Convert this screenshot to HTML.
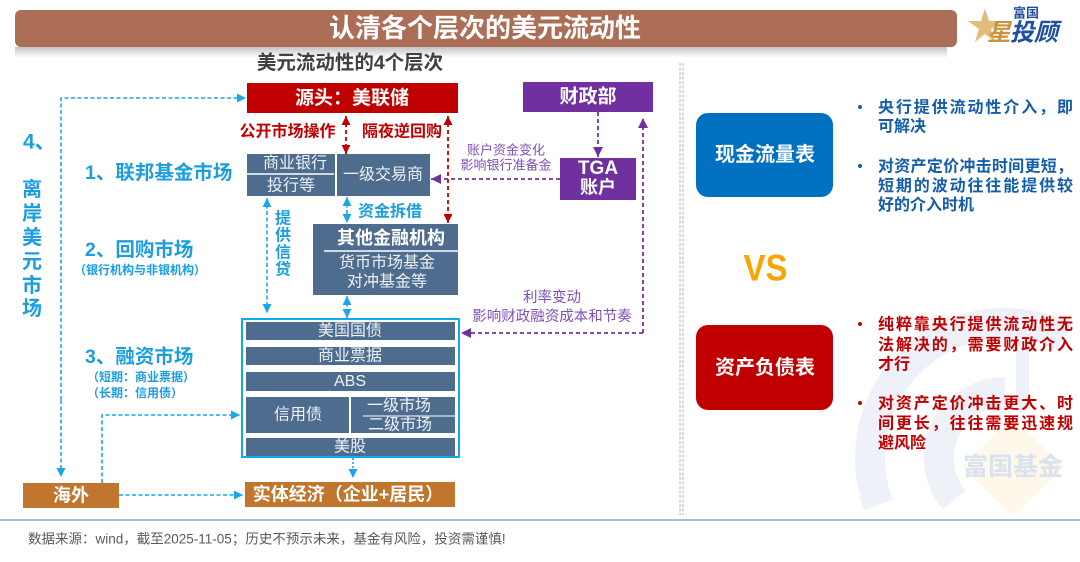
<!DOCTYPE html>
<html><head><meta charset="utf-8"><style>
html,body{margin:0;padding:0;background:#fff;width:1080px;height:562px;overflow:hidden;}
svg{display:block;}
text{font-family:"Liberation Sans","Noto Sans CJK SC",sans-serif;}
</style></head><body>
<svg width="1080" height="562" viewBox="0 0 1080 562" xmlns="http://www.w3.org/2000/svg">
<defs>
  <marker id="ab" viewBox="0 0 10 10" refX="10" refY="5" markerWidth="9" markerHeight="9" markerUnits="userSpaceOnUse" orient="auto-start-reverse"><path d="M0,0 L10,5 L0,10 z" fill="#1aa7e8"/></marker>
  <marker id="ar" viewBox="0 0 10 10" refX="10" refY="5" markerWidth="9" markerHeight="9" markerUnits="userSpaceOnUse" orient="auto-start-reverse"><path d="M0,0 L10,5 L0,10 z" fill="#c00000"/></marker>
  <marker id="ap" viewBox="0 0 10 10" refX="10" refY="5" markerWidth="10" markerHeight="10" markerUnits="userSpaceOnUse" orient="auto-start-reverse"><path d="M0,0 L10,5 L0,10 z" fill="#7030a0"/></marker>
  <linearGradient id="sh" x1="0" y1="0" x2="0" y2="1"><stop offset="0" stop-color="#c4c4c4"/><stop offset="1" stop-color="#ffffff"/></linearGradient>
</defs>

<!-- watermark -->
<g>
  <path d="M878.5,505 A135,135 0 0 1 1065,337" fill="none" stroke="#eef2f8" stroke-width="30"/>
  <path d="M1005,392 A66,66 0 0 0 954,500" fill="none" stroke="#eef2f8" stroke-width="30"/>
  <rect x="1016" y="318" width="13" height="92" fill="#eef2f8"/>
  <polygon points="1013,418 1064,467 1013,516 962,467" fill="#fef8ea"/>
  <text x="1013" y="467" font-size="25" font-weight="700" fill="#d9e2ed" text-anchor="middle" dominant-baseline="central">富国基金</text>
</g>

<!-- title bar -->
<rect x="15" y="47" width="932" height="11" fill="url(#sh)"/>
<rect x="15" y="10" width="942" height="37" rx="6" fill="#ad6e57"/>
<text x="485" y="28" font-size="26" font-weight="700" fill="#ffffff" text-anchor="middle" dominant-baseline="central">认清各个层次的美元流动性</text>

<!-- logo -->
<polygon points="985,8 989,21 1002,21 991,29 995,42 985,34 975,42 979,29 968,21 981,21" fill="#e2bd7a"/>
<text x="1026" y="13" font-size="13" font-weight="700" fill="#1f4fa0" text-anchor="middle" dominant-baseline="central">富国</text>
<text x="999" y="33" font-size="24" font-weight="700" font-style="italic" fill="#c8953e" text-anchor="middle" dominant-baseline="central">星</text>
<text x="1034" y="33" font-size="24" font-weight="700" font-style="italic" fill="#1f4fa0" text-anchor="middle" dominant-baseline="central">投顾</text>

<!-- subtitle -->
<text x="350" y="63" font-size="19.5" font-weight="700" fill="#404040" text-anchor="middle" dominant-baseline="central">美元流动性的4个层次</text>

<!-- top boxes -->
<rect x="247" y="83" width="211" height="30" fill="#c00000"/>
<text x="352" y="98.5" font-size="19" font-weight="700" fill="#ffffff" text-anchor="middle" dominant-baseline="central">源头：美联储</text>
<rect x="523" y="82" width="130" height="30" fill="#7030a0"/>
<text x="588" y="97" font-size="19" font-weight="700" fill="#ffffff" text-anchor="middle" dominant-baseline="central">财政部</text>

<!-- red labels -->
<text x="287.5" y="132" font-size="16" font-weight="700" fill="#c00000" text-anchor="middle" dominant-baseline="central">公开市场操作</text>
<text x="402" y="132" font-size="16" font-weight="700" fill="#c00000" text-anchor="middle" dominant-baseline="central">隔夜逆回购</text>

<!-- red arrows -->
<line x1="346" y1="116" x2="346" y2="154" stroke="#c00000" stroke-width="1.8" stroke-dasharray="4 3" marker-start="url(#ar)" marker-end="url(#ar)"/>
<line x1="448" y1="116" x2="448" y2="223" stroke="#c00000" stroke-width="1.8" stroke-dasharray="4 3" marker-start="url(#ar)" marker-end="url(#ar)"/>

<!-- bank boxes -->
<rect x="247" y="154" width="88" height="42" fill="#4e6d8e"/>
<line x1="247" y1="174" x2="334" y2="174" stroke="#ffffff" stroke-width="1.5"/>
<text x="295" y="163.5" font-size="16" fill="#eef2f7" text-anchor="middle" dominant-baseline="central">商业银行</text>
<text x="291" y="186" font-size="16" fill="#eef2f7" text-anchor="middle" dominant-baseline="central">投行等</text>
<rect x="337" y="154" width="93" height="42" fill="#4e6d8e"/>
<text x="383" y="175" font-size="16" fill="#eef2f7" text-anchor="middle" dominant-baseline="central">一级交易商</text>

<!-- TGA -->
<rect x="560" y="158" width="76" height="42" fill="#7030a0"/>
<text x="598" y="168.5" font-size="19" font-weight="700" fill="#ffffff" text-anchor="middle" dominant-baseline="central">TGA</text>
<text x="598" y="187.5" font-size="18" font-weight="700" fill="#ffffff" text-anchor="middle" dominant-baseline="central">账户</text>

<!-- purple arrows -->
<line x1="598" y1="112" x2="598" y2="157" stroke="#7030a0" stroke-width="1.8" stroke-dasharray="4 3" marker-end="url(#ap)"/>
<line x1="560" y1="179" x2="431" y2="179" stroke="#7030a0" stroke-width="1.8" stroke-dasharray="4 3" marker-end="url(#ap)"/>
<line x1="643" y1="333" x2="643" y2="118" stroke="#7030a0" stroke-width="1.8" stroke-dasharray="4 3" marker-end="url(#ap)"/>
<line x1="643" y1="333" x2="461" y2="333" stroke="#7030a0" stroke-width="1.8" stroke-dasharray="4 3" marker-end="url(#ap)"/>
<text x="506" y="150" font-size="13" fill="#8051b5" text-anchor="middle" dominant-baseline="central">账户资金变化</text>
<text x="506" y="165" font-size="13" fill="#8051b5" text-anchor="middle" dominant-baseline="central">影响银行准备金</text>
<text x="552" y="298" font-size="14.5" fill="#8051b5" text-anchor="middle" dominant-baseline="central">利率变动</text>
<text x="552" y="317" font-size="14.5" fill="#8051b5" text-anchor="middle" dominant-baseline="central">影响财政融资成本和节奏</text>

<!-- other fin institutions -->
<rect x="313" y="224" width="145" height="71" fill="#4e6d8e"/>
<text x="391" y="238" font-size="18" font-weight="700" fill="#ffffff" text-anchor="middle" dominant-baseline="central">其他金融机构</text>
<line x1="324" y1="251" x2="458" y2="251" stroke="#ffffff" stroke-width="1.5"/>
<text x="387" y="263" font-size="16" fill="#eef2f7" text-anchor="middle" dominant-baseline="central">货币市场基金</text>
<text x="387" y="282" font-size="16" fill="#eef2f7" text-anchor="middle" dominant-baseline="central">对冲基金等</text>

<!-- blue arrows -->
<line x1="347" y1="197" x2="347" y2="223" stroke="#1aa7e8" stroke-width="1.6" stroke-dasharray="4 2.5" marker-start="url(#ab)" marker-end="url(#ab)"/>
<text x="390" y="212" font-size="16" font-weight="700" fill="#1a9ee0" text-anchor="middle" dominant-baseline="central">资金拆借</text>
<line x1="267" y1="198" x2="267" y2="313" stroke="#1aa7e8" stroke-width="1.6" stroke-dasharray="4 2.5" marker-start="url(#ab)" marker-end="url(#ab)"/>
<g font-size="16" font-weight="700" fill="#1a9ee0" text-anchor="middle" dominant-baseline="central">
  <text x="283" y="219">提</text><text x="283" y="236">供</text><text x="283" y="253">信</text><text x="283" y="270">贷</text>
</g>
<line x1="347" y1="296" x2="347" y2="318" stroke="#1aa7e8" stroke-width="1.6" stroke-dasharray="4 2.5" marker-start="url(#ab)" marker-end="url(#ab)"/>
<line x1="353" y1="458" x2="353" y2="478" stroke="#1aa7e8" stroke-width="1.6" stroke-dasharray="2 2" marker-end="url(#ab)"/>

<polyline points="61,400 61,98 246,98" fill="none" stroke="#1aa7e8" stroke-width="1.6" stroke-dasharray="4 2.5" marker-end="url(#ab)"/>
<line x1="61" y1="400" x2="61" y2="477" stroke="#1aa7e8" stroke-width="1.6" stroke-dasharray="4 2.5" marker-end="url(#ab)"/>
<line x1="119" y1="495" x2="243" y2="495" stroke="#1aa7e8" stroke-width="1.6" stroke-dasharray="4 2.5" marker-end="url(#ab)"/>
<polyline points="102,483 102,415 240,415" fill="none" stroke="#1aa7e8" stroke-width="1.6" stroke-dasharray="4 2.5" marker-end="url(#ab)"/>

<!-- securities box -->
<rect x="242" y="319" width="217" height="138" fill="#ffffff" stroke="#10aaec" stroke-width="2"/>
<g fill="#4e6d8e">
  <rect x="246" y="322" width="209" height="18"/>
  <rect x="246" y="347" width="209" height="18"/>
  <rect x="246" y="372" width="209" height="19"/>
  <rect x="246" y="397" width="103" height="36"/>
  <rect x="351" y="397" width="104" height="36"/>
  <rect x="246" y="438" width="209" height="18"/>
</g>
<line x1="363" y1="416" x2="455" y2="416" stroke="#ffffff" stroke-width="1"/>
<g font-size="16" fill="#eef2f7" text-anchor="middle" dominant-baseline="central">
  <text x="350" y="331">美国国债</text>
  <text x="350" y="356">商业票据</text>
  <text x="350" y="381.5">ABS</text>
  <text x="298" y="415">信用债</text>
  <text x="399" y="406">一级市场</text>
  <text x="400" y="425">二级市场</text>
  <text x="350" y="447">美股</text>
</g>

<!-- bottom boxes -->
<rect x="245" y="482" width="210" height="25" fill="#c0762c"/>
<text x="348" y="494.5" font-size="18" font-weight="700" fill="#ffffff" text-anchor="middle" dominant-baseline="central">实体经济（企业+居民）</text>
<rect x="23" y="483" width="96" height="25" fill="#c0762c"/>
<text x="71" y="495.5" font-size="18" font-weight="700" fill="#ffffff" text-anchor="middle" dominant-baseline="central">海外</text>

<!-- left labels -->
<g font-weight="700" fill="#1a9ee0" dominant-baseline="central">
  <text x="23" y="142" font-size="21">4、</text>
  <g font-size="20" text-anchor="middle">
    <text x="32" y="190">离</text><text x="32" y="214">岸</text><text x="32" y="238">美</text>
    <text x="32" y="262">元</text><text x="32" y="286">市</text><text x="32" y="309">场</text>
  </g>
  <text x="85" y="173" font-size="19.5">1、联邦基金市场</text>
  <text x="85" y="250" font-size="19.5">2、回购市场</text>
  <text x="74" y="270" font-size="12">（银行机构与非银机构）</text>
  <text x="85" y="357" font-size="19.5">3、融资市场</text>
  <text x="87" y="377" font-size="12">（短期：商业票据）</text>
  <text x="87" y="393" font-size="12">（长期：信用债）</text>
</g>

<!-- separator -->
<line x1="680" y1="63" x2="680" y2="515" stroke="#a9b8cc" stroke-width="1" stroke-dasharray="3 1.5"/>
<line x1="683" y1="63" x2="683" y2="515" stroke="#a9b8cc" stroke-width="1" stroke-dasharray="3 1.5"/>

<!-- right side -->
<rect x="696" y="113" width="137" height="84" rx="12" fill="#0070c0"/>
<text x="765" y="155" font-size="20" font-weight="700" fill="#ffffff" text-anchor="middle" dominant-baseline="central">现金流量表</text>
<text x="765.5" y="268" font-size="37" font-weight="700" fill="#f9a400" text-anchor="middle" dominant-baseline="central" textLength="44" lengthAdjust="spacingAndGlyphs">VS</text>
<rect x="696" y="325" width="137" height="85" rx="12" fill="#c00000"/>
<text x="765" y="368" font-size="20" font-weight="700" fill="#ffffff" text-anchor="middle" dominant-baseline="central">资产负债表</text>

<g font-size="16" font-weight="700" fill="#145da9" dominant-baseline="central">
  <circle cx="860" cy="107" r="2" fill="#145da9"/>
  <text x="878" y="108" textLength="195" lengthAdjust="spacing">央行提供流动性介入，即</text>
  <text x="878" y="127">可解决</text>
  <circle cx="860" cy="166" r="2" fill="#145da9"/>
  <text x="878" y="167" textLength="195" lengthAdjust="spacing">对资产定价冲击时间更短，</text>
  <text x="878" y="186.5" textLength="195" lengthAdjust="spacing">短期的波动往往能提供较</text>
  <text x="878" y="205.5">好的介入时机</text>
</g>
<g font-size="16" font-weight="700" fill="#c00000" dominant-baseline="central">
  <circle cx="860" cy="324" r="2" fill="#c00000"/>
  <text x="878" y="325" textLength="195" lengthAdjust="spacing">纯粹靠央行提供流动性无</text>
  <text x="878" y="345.5" textLength="195" lengthAdjust="spacing">法解决的，需要财政介入</text>
  <text x="878" y="365">才行</text>
  <circle cx="860" cy="403" r="2" fill="#c00000"/>
  <text x="878" y="404" textLength="195" lengthAdjust="spacing">对资产定价冲击更大、时</text>
  <text x="878" y="424" textLength="195" lengthAdjust="spacing">间更长，往往需要迅速规</text>
  <text x="878" y="443.5">避风险</text>
</g>

<!-- footer -->
<line x1="0" y1="520" x2="1080" y2="520" stroke="#8fa7c6" stroke-width="1.5"/>
<text x="28" y="539" font-size="13.5" fill="#595959" dominant-baseline="central">数据来源：wind，截至2025-11-05；历史不预示未来，基金有风险，投资需谨慎!</text>
</svg>
</body></html>
